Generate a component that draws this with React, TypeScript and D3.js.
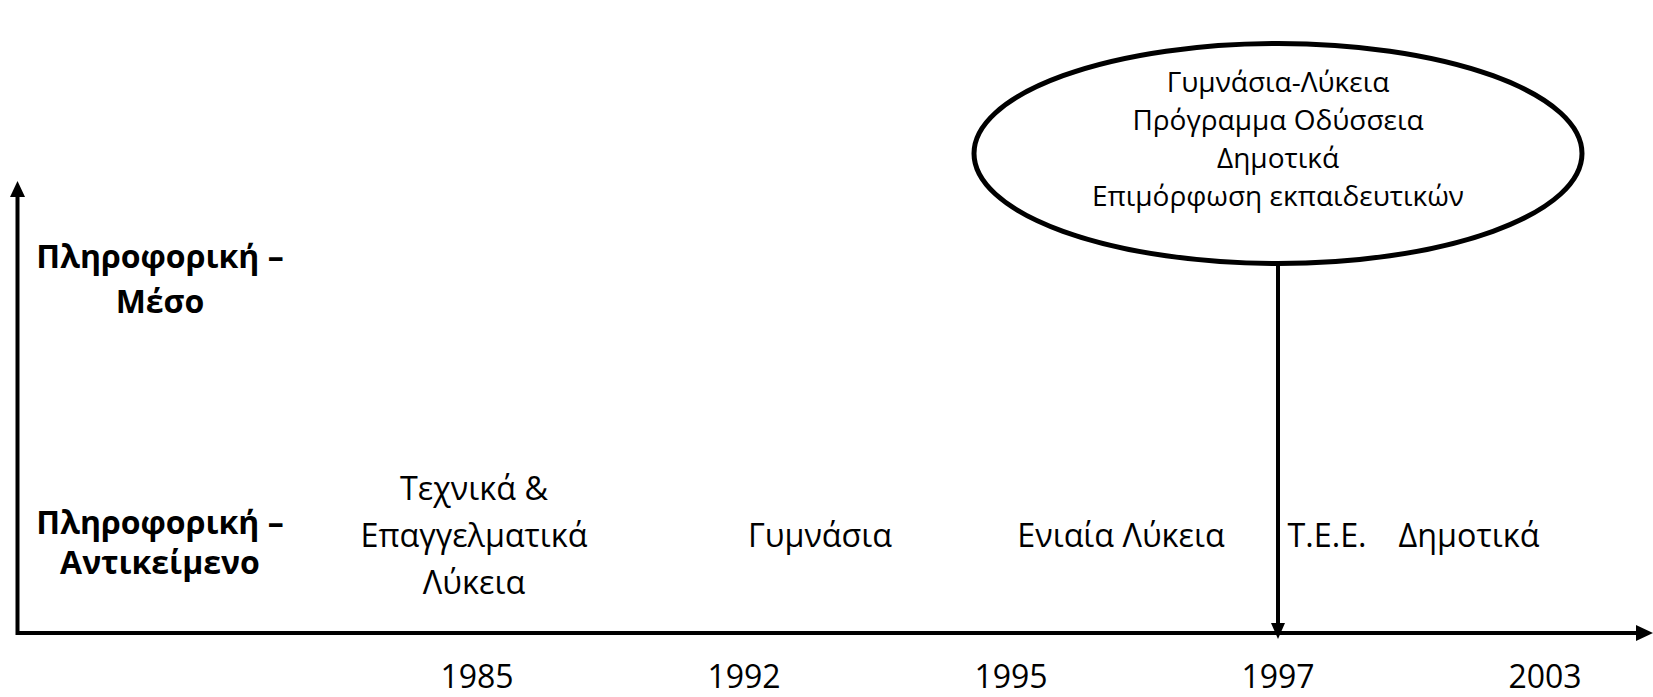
import React from 'react';
import * as d3 from 'd3';

// ---- data ----
const years = ['1985', '1992', '1995', '1997', '2003'];
const levelObject = ['Πληροφορική –', 'Αντικείμενο'];
const levelMedium = ['Πληροφορική –', 'Μέσο'];
const objectEventYears = ['1985', '1992', '1995', '1997', '2003'];
const objectEventLabels = [
  ['Τεχνικά &', 'Επαγγελματικά', 'Λύκεια'],
  ['Γυμνάσια'],
  ['Ενιαία Λύκεια'],
  ['Τ.Ε.Ε.'],
  ['Δημοτικά'],
];
const mediumEventYear = '1997';
const mediumEventLabels = ['Γυμνάσια-Λύκεια', 'Πρόγραμμα Οδύσσεια', 'Δημοτικά', 'Επιμόρφωση εκπαιδευτικών'];

// ---- layout ----
const W = 1653;
const H = 697;
const AXIS_X = 17.5;
const AXIS_Y = 633;
const FONT = "'Open Sans', 'Noto Sans', sans-serif";
const labelDx = [-3, 76, 110, 49, -76];

export default function App() {
  const x = d3.scalePoint<string>().domain(years).range([477, 1545]);
  const y = d3.scaleLinear().domain([0, 1]).range([547, 290]); // 0: object, 1: medium

  const arrowRight = d3.path();
  arrowRight.moveTo(W, AXIS_Y);
  arrowRight.lineTo(W - 17, AXIS_Y - 8);
  arrowRight.lineTo(W - 17, AXIS_Y + 8);
  arrowRight.closePath();

  const arrowUp = d3.path();
  arrowUp.moveTo(AXIS_X, 181);
  arrowUp.lineTo(AXIS_X - 7.5, 197);
  arrowUp.lineTo(AXIS_X + 7.5, 197);
  arrowUp.closePath();

  const mx = x(mediumEventYear)!;
  const ellipseCy = 153.5;
  const ellipseRy = 110;
  const ellipseRx = 304;

  const arrowDown = d3.path();
  arrowDown.moveTo(mx, 639);
  arrowDown.lineTo(mx - 7, 623);
  arrowDown.lineTo(mx + 7, 623);
  arrowDown.closePath();

  const lineH = 47;

  return (
    <svg width={W} height={H} style={{ position: 'absolute', left: 0, top: 0, background: '#fff' }}
      fontFamily={FONT}>
      <rect width={W} height={H} fill="#fff" />
      {/* axes */}
      <line x1={AXIS_X} y1={AXIS_Y} x2={W - 14} y2={AXIS_Y} stroke="#000" strokeWidth={4} />
      <path d={arrowRight.toString()} fill="#000" />
      <line x1={AXIS_X} y1={AXIS_Y + 2} x2={AXIS_X} y2={194} stroke="#000" strokeWidth={4} />
      <path d={arrowUp.toString()} fill="#000" />

      {/* level labels */}
      {[levelObject, levelMedium].map((lines, li) => {
        const cy = li === 0 ? 554 : 290.5;
        const gap = li === 0 ? 40 : 45;
        return (
          <text key={li} x={160} textAnchor="middle" fontWeight={700} fontSize={32} fill="#000">
            {lines.map((t, i) => (
              <tspan key={i} x={160} y={cy - gap / 2 + i * gap}>{t}</tspan>
            ))}
          </text>
        );
      })}

      {/* year ticks */}
      {years.map((yr) => (
        <text key={yr} x={x(yr)} y={688} textAnchor="middle" fontSize={32} fill="#000">{yr}</text>
      ))}

      {/* object events */}
      {objectEventYears.map((yr, i) => {
        const lines = objectEventLabels[i];
        const cx = x(yr)! + labelDx[i];
        const base = y(0) - ((lines.length - 1) * lineH) / 2;
        return (
          <text key={yr} textAnchor="middle" fontSize={32.3} fill="#000">
            {lines.map((t, j) => (
              <tspan key={j} x={cx} y={base + j * lineH}>{t}</tspan>
            ))}
          </text>
        );
      })}

      {/* medium event */}
      <line x1={mx} y1={ellipseCy + ellipseRy} x2={mx} y2={626} stroke="#000" strokeWidth={4} />
      <path d={arrowDown.toString()} fill="#000" />
      <ellipse cx={mx} cy={ellipseCy} rx={ellipseRx} ry={ellipseRy} fill="#fff" stroke="#000" strokeWidth={5} />
      <text textAnchor="middle" fontSize={28} fill="#000">
        {mediumEventLabels.map((t, j) => (
          <tspan key={j} x={mx} y={92 + j * 38}>{t}</tspan>
        ))}
      </text>
    </svg>
  );
}
